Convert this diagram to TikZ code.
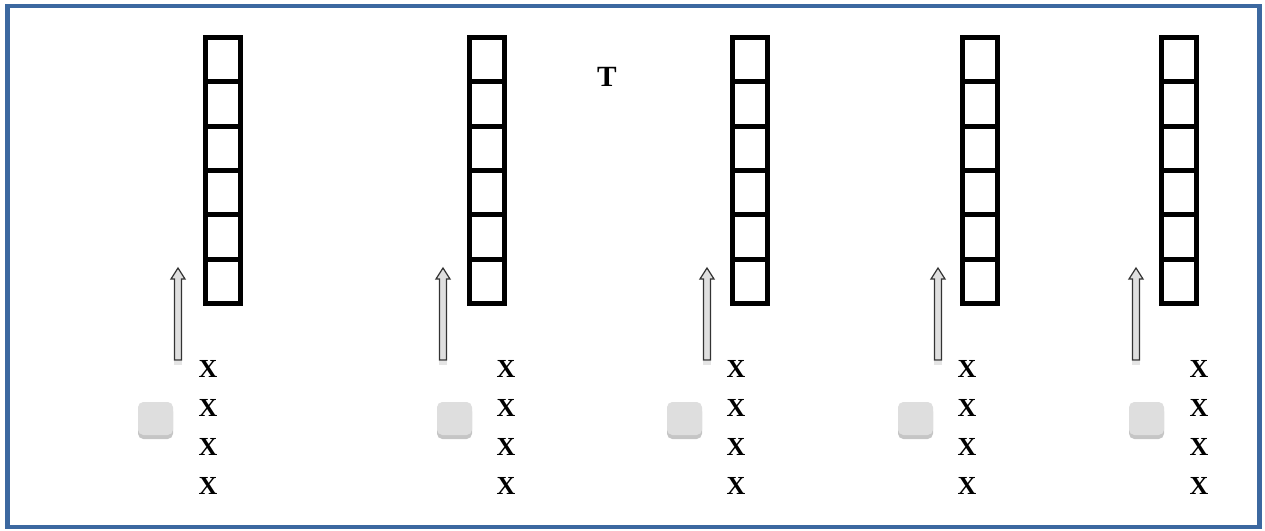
\documentclass[tikz,border=0pt]{standalone}
\usepackage{fontspec}
\setmainfont{Liberation Serif}
\usetikzlibrary{calc,shadows}
\definecolor{frameblue}{RGB}{60,104,160}
\definecolor{boxgray}{RGB}{222,222,222}
\tikzset{
  frame/.style={draw=frameblue, line width=3.2pt},
  ladder/.style={draw=black, line width=3.8pt, line join=miter},
  rung/.style={draw=black, line width=3.6pt},
  hollowarrow/.style={draw=black!80, fill=gray!25, line width=0.9pt, line join=miter},
  graybox/.style={draw=none, fill=boxgray, rounded corners=4pt, minimum width=26.25pt, minimum height=24.75pt, inner sep=0pt,
    drop shadow={shadow xshift=0pt, shadow yshift=-3pt, opacity=0.45, fill=gray}},
  xlabel/.style={font=\fontsize{19.5}{19.5}\selectfont\bfseries, inner sep=0pt, anchor=center},
  tlabel/.style={font=\fontsize{22}{22}\selectfont\bfseries, inner sep=0pt}
}
\begin{document}
\begin{tikzpicture}[x=0.75pt,y=-0.75pt]
\useasboundingbox (0,0) rectangle (1265,531);
\fill[white] (0,0) rectangle (1265,531);
\draw[frame] (7.5,6) rectangle (1259.5,527);
\node[tlabel] (T) at (607,77) {T};
\foreach \i/\L/\A/\S/\X in {1/203/178/155.5/208, 2/467/443/454.5/506, 3/730/707/684.5/736, 4/960/938/915.5/967, 5/1159/1136/1146.5/1199}{
  % ladder
  \coordinate (lt\i) at (\L+2.5,37.5);
  \coordinate (lb\i) at (\L+37.5,303.5);
  \draw[ladder] (lt\i) rectangle (lb\i);
  \foreach \k in {1,...,5}{
    \draw[rung] (\L+2.5,37.5+44.33*\k) -- (\L+37.5,37.5+44.33*\k);
  }
  % arrow
  \coordinate (ab\i) at (\A,360);
  \coordinate (at\i) at (\A,268);
  \fill[gray!40, opacity=0.5] (\A-4,361) rectangle (\A+4,365);
  \draw[hollowarrow] ($(ab\i)+(-3.5,0)$) -- ($(at\i)+(-3.5,11)$) -- ($(at\i)+(-7,11)$) -- (at\i)
     -- ($(at\i)+(7,11)$) -- ($(at\i)+(3.5,11)$) -- ($(ab\i)+(3.5,0)$) -- cycle;
  % gray box
  \node[graybox] (sq\i) at (\S,418.5) {};
  % X column
  \node[xlabel] (xa\i) at (\X,369) {X};
  \node[xlabel] (xb\i) at (\X,408) {X};
  \node[xlabel] (xc\i) at (\X,447) {X};
  \node[xlabel] (xd\i) at (\X,486) {X};
}
\end{tikzpicture}
\end{document}
